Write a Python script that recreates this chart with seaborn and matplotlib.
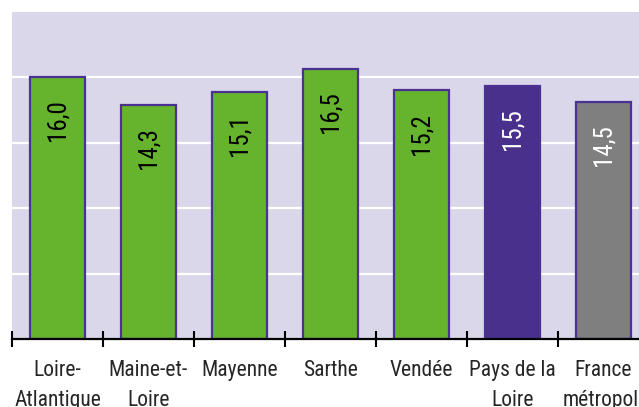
import matplotlib
matplotlib.use("Agg")
import matplotlib.pyplot as plt
import pandas as pd
import seaborn as sns

# Chart data
zones = ["Loire-\nAtlantique", "Maine-et-\nLoire", "Mayenne", "Sarthe",
         "Vendée", "Pays de la\nLoire", "France\nmétropol."]
rates = [16.0, 14.3, 15.1, 16.5, 15.2, 15.5, 14.5]
bar_colors = ["#66b42d", "#66b42d", "#66b42d", "#66b42d", "#66b42d",
              "#48308c", "#7f7f7f"]
text_colors = ["black", "black", "black", "black", "black", "white", "white"]

sns.set_style("white")
plt.rcParams["font.family"] = ["Roboto Condensed", "DejaVu Sans"]

df = pd.DataFrame({"zone": zones, "rate": rates})

fig = plt.figure(figsize=(6.39, 4.07), dpi=100)
# plot area runs slightly past the right edge, like the original
ax = fig.add_axes([12 / 639, 68 / 407, 637 / 639, 327 / 407])
ax.set_facecolor("#dad7ea")

sns.barplot(
    data=df,
    x="zone",
    y="rate",
    hue="zone",
    palette=bar_colors,
    legend=False,
    width=0.6,
    edgecolor="#4b3192",
    linewidth=1.6,
    saturation=1,
    ax=ax,
    zorder=3,
)

# white horizontal gridlines
for y in [4, 8, 12, 16]:
    ax.axhline(y, color="white", linewidth=1.6, zorder=1)

# value labels, rotated inside the bar tops
for i, (val, col) in enumerate(zip(rates, text_colors)):
    ax.annotate(
        f"{val:.1f}".replace(".", ","),
        xy=(i, val),
        xytext=(0, -16),
        textcoords="offset points",
        rotation=90,
        ha="center",
        va="top",
        fontsize=18,
        color=col,
        zorder=4,
    )

ax.set_ylim(0, 20)
ax.set_xlim(-0.5, 6.5)
ax.set_yticks([])
ax.set_xlabel("")
ax.set_ylabel("")

# ticks at category boundaries, labels at centres
ax.set_xticks([i - 0.5 for i in range(8)])
ax.set_xticklabels([])
ax.set_xticks(range(len(zones)), minor=True)
ax.set_xticklabels(zones, minor=True, fontsize=15.5, linespacing=1.55)
ax.tick_params(axis="x", which="major", bottom=True, direction="inout",
               length=11, width=1.5, color="black")
ax.tick_params(axis="x", which="minor", bottom=True, length=0, pad=15)

for side in ["top", "left", "right"]:
    ax.spines[side].set_visible(False)
ax.spines["bottom"].set_color("black")
ax.spines["bottom"].set_linewidth(1.6)
ax.spines["bottom"].set_zorder(5)

fig.savefig("out.png", dpi=100)
